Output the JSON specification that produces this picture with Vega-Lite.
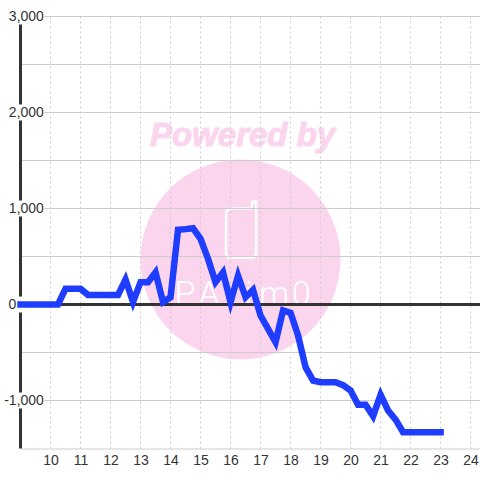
{
"$schema":"https://vega.github.io/schema/vega-lite/v6.json",
"width":460,"height":432,
"autosize":{"type":"none"},
"padding":{"left":20.5,"top":16.5,"right":0,"bottom":31.5},
"background":"white",
"config":{"view":{"stroke":null},"font":"Liberation Sans","axis":{"labelFontSize":14,"labelColor":"#333333","domainColor":"#cccccc","domainWidth":1,"ticks":false,"grid":false,"labelFont":"Liberation Sans","labelPadding":5,"labelFlush":false,"labelOverlap":false}},
"data":{"values":[{"one":1}]},
"datasets":{
"pnl":[
{"hour":9,"pnl":0},{"hour":10.25,"pnl":0},{"hour":10.5,"pnl":163},{"hour":11,"pnl":163},{"hour":11.25,"pnl":100},{"hour":12.25,"pnl":100},{"hour":12.5,"pnl":260},{"hour":12.75,"pnl":25},{"hour":13,"pnl":233},{"hour":13.25,"pnl":233},{"hour":13.5,"pnl":335},{"hour":13.75,"pnl":25},{"hour":14,"pnl":75},{"hour":14.25,"pnl":778},{"hour":14.5,"pnl":785},{"hour":14.75,"pnl":795},{"hour":15,"pnl":684},{"hour":15.25,"pnl":475},{"hour":15.5,"pnl":233},{"hour":15.75,"pnl":335},{"hour":16,"pnl":25},{"hour":16.25,"pnl":300},{"hour":16.5,"pnl":76},{"hour":16.75,"pnl":153},{"hour":17,"pnl":-115},{"hour":17.25,"pnl":-253},{"hour":17.5,"pnl":-392},{"hour":17.75,"pnl":-62},{"hour":18,"pnl":-87},{"hour":18.25,"pnl":-323},{"hour":18.5,"pnl":-653},{"hour":18.75,"pnl":-792},{"hour":19,"pnl":-809},{"hour":19.5,"pnl":-809},{"hour":19.75,"pnl":-840},{"hour":20,"pnl":-896},{"hour":20.25,"pnl":-1045},{"hour":20.5,"pnl":-1045},{"hour":20.75,"pnl":-1163},{"hour":21,"pnl":-941},{"hour":21.25,"pnl":-1104},{"hour":21.5,"pnl":-1200},{"hour":21.75,"pnl":-1330},{"hour":23,"pnl":-1330}
],
"hgrid":[{"v":3000},{"v":2500},{"v":2000},{"v":1500},{"v":1000},{"v":500},{"v":-500},{"v":-1000}],
"vgrid":[{"h":10},{"h":11},{"h":12},{"h":13},{"h":14},{"h":15},{"h":16},{"h":17},{"h":18},{"h":19},{"h":20},{"h":21},{"h":22},{"h":23},{"h":24}],
"masks":[{"lo":2917,"hi":3083},{"lo":1917,"hi":2083},{"lo":917,"hi":1083},{"lo":-1083,"hi":-917}],
"labels":[{"v":3000,"t":"3,000"},{"v":2000,"t":"2,000"},{"v":1000,"t":"1,000"},{"v":-1000,"t":"-1,000"}],
"letters":[{"ch":"P","h":14.48},{"ch":"A","h":15.28},{"ch":"i","h":16.6},{"ch":"m","h":17.45},{"ch":"0","h":18.35}],
"phone":[{"i":1,"h":15.967,"v":1000},{"i":2,"h":16.7,"v":1000},{"i":3,"h":16.733,"v":1073},{"i":4,"h":16.85,"v":1073},{"i":5,"h":16.85,"v":521},{"i":6,"h":16.767,"v":490},{"i":7,"h":15.933,"v":490},{"i":8,"h":15.85,"v":521},{"i":9,"h":15.85,"v":969},{"i":10,"h":15.967,"v":1000}]
},
"layer":[
{"mark":{"type":"point","filled":true,"color":"#fbd5ed","opacity":1,"size":40000},"encoding":{"x":{"datum":16.33,"type":"quantitative","scale":{"domain":[9,24.33],"nice":false,"zero":false}},"y":{"datum":469,"type":"quantitative","scale":{"domain":[-1500,3000],"nice":false,"zero":false},"axis":null}}},
{"mark":{"type":"text","text":"Powered by","font":"Liberation Sans","fontWeight":"bold","fontStyle":"italic","fontSize":33,"color":"#fbd5ed","stroke":"#fbd5ed","strokeWidth":1,"align":"center","baseline":"alphabetic"},"encoding":{"x":{"datum":16.4,"type":"quantitative"},"y":{"datum":1646,"type":"quantitative","axis":null}}},
{"data":{"name":"phone"},"mark":{"type":"line","color":"white","strokeWidth":2.5,"strokeJoin":"round"},"encoding":{"x":{"field":"h","type":"quantitative"},"y":{"field":"v","type":"quantitative","axis":null},"order":{"field":"i"}}},
{"data":{"name":"letters"},"mark":{"type":"text","font":"Roboto","fontWeight":300,"fontSize":34,"color":"white","align":"center","baseline":"alphabetic"},"encoding":{"x":{"field":"h","type":"quantitative"},"y":{"datum":-10,"type":"quantitative","axis":null},"text":{"field":"ch"}}},
{"data":{"name":"hgrid"},"mark":{"type":"rule","color":"#cccccc","strokeWidth":1},"encoding":{"y":{"field":"v","type":"quantitative","axis":null}}},
{"data":{"name":"vgrid"},"mark":{"type":"rule","color":"#cccccc","strokeWidth":1,"strokeDash":[2,3]},"encoding":{"x":{"field":"h","type":"quantitative"}}},
{"mark":{"type":"rule","color":"#333333","strokeWidth":3},"encoding":{"x":{"datum":9,"type":"quantitative"}}},
{"mark":{"type":"rule","color":"#333333","strokeWidth":3},"encoding":{"y":{"datum":0,"type":"quantitative","axis":null}}},
{"data":{"name":"masks"},"mark":{"type":"rect","color":"white"},"encoding":{"x":{"datum":8.5,"type":"quantitative"},"x2":{"datum":9.8},"y":{"field":"lo","type":"quantitative","axis":null},"y2":{"field":"hi"}}},
{"data":{"values":[{"lo":-83,"hi":83}]},"mark":{"type":"rect","color":"white"},"encoding":{"x":{"datum":8.5,"type":"quantitative"},"x2":{"datum":9.2},"y":{"field":"lo","type":"quantitative","axis":null},"y2":{"field":"hi"}}},
{"data":{"name":"labels"},"mark":{"type":"text","fontSize":14,"color":"#333333","align":"right","baseline":"middle","font":"Liberation Sans"},"encoding":{"x":{"datum":9.78,"type":"quantitative"},"y":{"field":"v","type":"quantitative","axis":null},"text":{"field":"t"}}},
{"data":{"values":[{"v":0,"t":"0"}]},"mark":{"type":"text","fontSize":14,"color":"#333333","align":"center","baseline":"middle","font":"Liberation Sans"},"encoding":{"x":{"datum":8.73,"type":"quantitative"},"y":{"field":"v","type":"quantitative","axis":null},"text":{"field":"t"}}},
{"data":{"name":"pnl"},"mark":{"type":"line","color":"#1f3dff","strokeWidth":6.5,"strokeCap":"square"},"encoding":{"x":{"field":"hour","type":"quantitative","axis":{"values":[10,11,12,13,14,15,16,17,18,19,20,21,22,23,24],"format":"d","title":null,"tickCount":15}},"y":{"field":"pnl","type":"quantitative","axis":null}}}
]
}
